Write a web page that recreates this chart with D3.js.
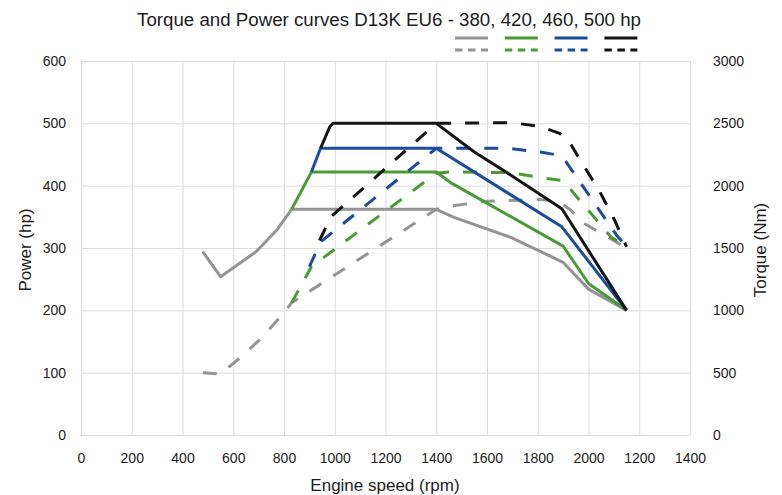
<!DOCTYPE html>
<html>
<head>
<meta charset="utf-8">
<script src="https://cdn.jsdelivr.net/npm/d3@7/dist/d3.min.js"></script>
<style>
	body { margin: 0; background: #fff; }
	svg text { font-family: "Liberation Sans", Arial, sans-serif; fill: #1c1c1c; }
	.grid line { stroke: #dcdcdc; stroke-width: 1; }
	.grid path, .axis path { display: none; }
	.axis text { font-size: 14px; }
	.curve { fill: none; stroke-width: 3; stroke-linejoin: round; }
</style>
</head>
<body>
<svg id="chart" width="782" height="495"></svg>
<script>
var title = 'Torque and Power curves D13K EU6 - 380, 420, 460, 500 hp';

var rpmTicks = [0, 200, 400, 600, 800, 1000, 1200, 1400, 1600, 1800, 2000, 2200, 2400];
var rpmTickLabels = ['0', '200', '400', '600', '800', '1000', '1200', '1400', '1600', '1800', '2000', '1200', '1400'];
var powerTicks = [0, 100, 200, 300, 400, 500, 600];
var torqueTicks = [0, 500, 1000, 1500, 2000, 2500, 3000];

var engines = ['380', '420', '460', '500'];
var colors = ['#949494', '#4a9b38', '#1c4c9e', '#141414'];

// torque (Nm), [rpm, Nm]
var torque380 = [[480, 1470], [550, 1270], [690, 1470], [770, 1640], [830, 1810], [1400, 1810], [1470, 1745], [1700, 1580], [1900, 1385], [2000, 1170], [2150, 1000]];
var torque420 = [[830, 1810], [908, 2110], [1400, 2110], [1460, 2020], [1900, 1515], [2000, 1215], [2150, 1000]];
var torque460 = [[908, 2110], [944, 2300], [1400, 2300], [1895, 1670], [2150, 1000]];
var torque500 = [[944, 2300], [980, 2470], [993, 2500], [1400, 2500], [1550, 2270], [1690, 2090], [1895, 1815], [2150, 1000]];

// power (hp), [rpm, hp]
var power380 = [[480, 100], [550, 98], [630, 125], [715, 157], [795, 194], [830, 212], [1400, 362], [1450, 367], [1600, 375], [1800, 378], [1880, 375], [1930, 361], [1980, 340], [2150, 300]];
var power420 = [[830, 212], [908, 270], [1400, 420], [1450, 422], [1690, 421], [1810, 413], [1900, 408], [2090, 317], [2150, 302]];
var power460 = [[900, 270], [945, 310], [1400, 460], [1680, 460], [1810, 454], [1880, 449], [1905, 442], [2110, 321], [2150, 302]];
var power500 = [[940, 312], [985, 350], [1400, 500], [1700, 501], [1810, 495], [1886, 484], [1925, 470], [1960, 446], [2045, 390], [2100, 347], [2150, 302]];

var torqueSeries = [torque380, torque420, torque460, torque500];
var powerSeries = [power380, power420, power460, power500];

(function drawChart() {
	var svg = d3.select('#chart'),
		plotLeft = 81, plotRight = 690, plotTop = 61, plotBottom = 435;

	var x = d3.scaleLinear().domain([0, 2400]).range([plotLeft, plotRight]),
		yPower = d3.scaleLinear().domain([0, 600]).range([plotBottom, plotTop]),
		yTorque = d3.scaleLinear().domain([0, 3000]).range([plotBottom, plotTop]);

	// grid
	svg.append('g')
		.attr('class', 'grid')
		.attr('transform', 'translate(0,' + plotBottom + ')')
		.call(d3.axisBottom(x).tickValues(rpmTicks).tickSize(-(plotBottom - plotTop)).tickFormat(''));
	svg.append('g')
		.attr('class', 'grid')
		.attr('transform', 'translate(' + plotLeft + ',0)')
		.call(d3.axisLeft(yPower).tickValues(powerTicks).tickSize(-(plotRight - plotLeft)).tickFormat(''));

	// axes
	svg.append('g')
		.attr('class', 'axis')
		.attr('transform', 'translate(0,' + plotBottom + ')')
		.call(d3.axisBottom(x).tickValues(rpmTicks).tickSize(0).tickPadding(18)
			.tickFormat(function(d, i) { return rpmTickLabels[i]; }));
	svg.append('g')
		.attr('class', 'axis')
		.attr('transform', 'translate(' + plotLeft + ',0)')
		.call(d3.axisLeft(yPower).tickValues(powerTicks).tickSize(0).tickPadding(15).tickFormat(d3.format('d')));
	svg.append('g')
		.attr('class', 'axis')
		.attr('transform', 'translate(' + plotRight + ',0)')
		.call(d3.axisRight(yTorque).tickValues(torqueTicks).tickSize(0).tickPadding(23).tickFormat(d3.format('d')));
	svg.selectAll('.axis text').attr('fill', '#1c1c1c');

	// curves
	var torqueLine = d3.line().x(function(d) { return x(d[0]); }).y(function(d) { return yTorque(d[1]); }),
		powerLine = d3.line().x(function(d) { return x(d[0]); }).y(function(d) { return yPower(d[1]); });

	engines.forEach(function(e, i) {
		svg.append('path')
			.attr('class', 'curve')
			.attr('stroke', colors[i])
			.attr('stroke-dasharray', '14,14')
			.attr('d', powerLine(powerSeries[i]));
		svg.append('path')
			.attr('class', 'curve')
			.attr('stroke', colors[i])
			.attr('d', torqueLine(torqueSeries[i]));
	});

	// legend
	var legend = svg.append('g');
	engines.forEach(function(e, i) {
		var lx = 455 + i * 49.8;
		legend.append('line')
			.attr('x1', lx).attr('x2', lx + 33)
			.attr('y1', 38).attr('y2', 38)
			.attr('stroke', colors[i]).attr('stroke-width', 3);
		legend.append('line')
			.attr('x1', lx).attr('x2', lx + 33)
			.attr('y1', 50).attr('y2', 50)
			.attr('stroke', colors[i]).attr('stroke-width', 3)
			.attr('stroke-dasharray', '7.5,5.5');
	});

	// titles
	svg.append('text')
		.attr('x', 389).attr('y', 26)
		.attr('text-anchor', 'middle')
		.style('font-size', '18.7px')
		.text(title);
	svg.append('text')
		.attr('x', 385).attr('y', 491)
		.attr('text-anchor', 'middle')
		.style('font-size', '17px')
		.text('Engine speed (rpm)');
	svg.append('text')
		.attr('transform', 'translate(31,250) rotate(-90)')
		.attr('text-anchor', 'middle')
		.style('font-size', '17px')
		.text('Power (hp)');
	svg.append('text')
		.attr('transform', 'translate(766,250) rotate(-90)')
		.attr('text-anchor', 'middle')
		.style('font-size', '17px')
		.text('Torque (Nm)');
})();
</script>
</body>
</html>
